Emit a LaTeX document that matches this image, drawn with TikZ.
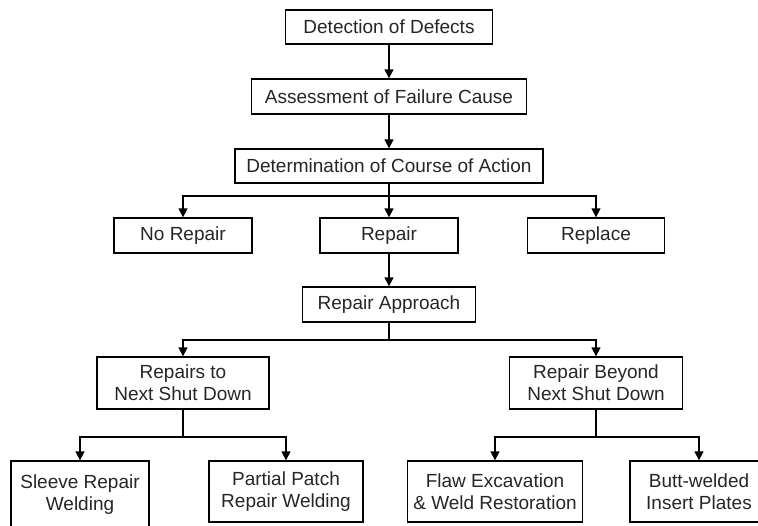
\documentclass[tikz,border=0pt]{standalone}
\usepackage{fontspec}
\setmainfont{Liberation Sans}
\usetikzlibrary{arrows.meta}
\begin{document}
\begin{tikzpicture}[x=1pt,y=-1pt,
  box/.style={draw=black,line width=1.3pt,fill=white,inner sep=0pt,align=center,
    font=\fontsize{19}{22}\selectfont,text=black!85},
  arr/.style={line width=1.3pt,-{Triangle[length=9pt,width=9pt]}},
  ln/.style={line width=1.3pt}]
\clip (0,0) rectangle (758,525);
\fill[white] (0,0) rectangle (758,525);
\node[box,minimum width=207pt,minimum height=34pt] (det) at (389,27) {Detection of Defects};
\node[box,minimum width=275pt,minimum height=35pt] (ass) at (389,96.5) {Assessment of Failure Cause};
\node[box,minimum width=308pt,minimum height=34pt] (detm) at (389,166) {Determination of Course of Action};
\node[box,minimum width=138pt,minimum height=35pt] (norep) at (183,235.5) {No Repair};
\node[box,minimum width=138pt,minimum height=35pt] (rep) at (389,235.5) {Repair};
\node[box,minimum width=137pt,minimum height=35pt] (repl) at (596,235.5) {Replace};
\node[box,minimum width=173pt,minimum height=35pt] (appr) at (389,304.5) {Repair Approach};
\node[box,minimum width=172pt,minimum height=52pt] (rtn) at (183,383) {Repairs to\\Next Shut Down};
\node[box,minimum width=173pt,minimum height=52pt] (rbn) at (596,383) {Repair Beyond\\Next Shut Down};
\node[box,minimum width=138pt,minimum height=67pt] (sleeve) at (80,494.5) {Sleeve Repair\\Welding};
\node[box,minimum width=154pt,minimum height=61pt] (partial) at (286,491.5) {Partial Patch\\Repair Welding};
\node[box,minimum width=175pt,minimum height=61pt] (flaw) at (495,491.5) {Flaw Excavation\\\& Weld Restoration};
\node[box,minimum width=138pt,minimum height=61pt] (butt) at (699,491.5) {Butt-welded\\Insert Plates};
\coordinate (b1) at (389,196);
\coordinate (b2) at (389,340);
\coordinate (b3) at (183,437);
\coordinate (b4) at (596,437);
\draw[arr] (det) -- (ass);
\draw[arr] (ass) -- (detm);
\draw[arr] (detm) -- (rep);
\draw[arr] (b1) -| (norep);
\draw[arr] (b1) -| (repl);
\draw[arr] (rep) -- (appr);
\draw[ln] (appr) -- (b2);
\draw[arr] (b2) -| (rtn);
\draw[arr] (b2) -| (rbn);
\draw[ln] (rtn) -- (b3);
\draw[arr] (b3) -| (sleeve);
\draw[arr] (b3) -| (partial);
\draw[ln] (rbn) -- (b4);
\draw[arr] (b4) -| (flaw);
\draw[arr] (b4) -| (butt);
\end{tikzpicture}
\end{document}
